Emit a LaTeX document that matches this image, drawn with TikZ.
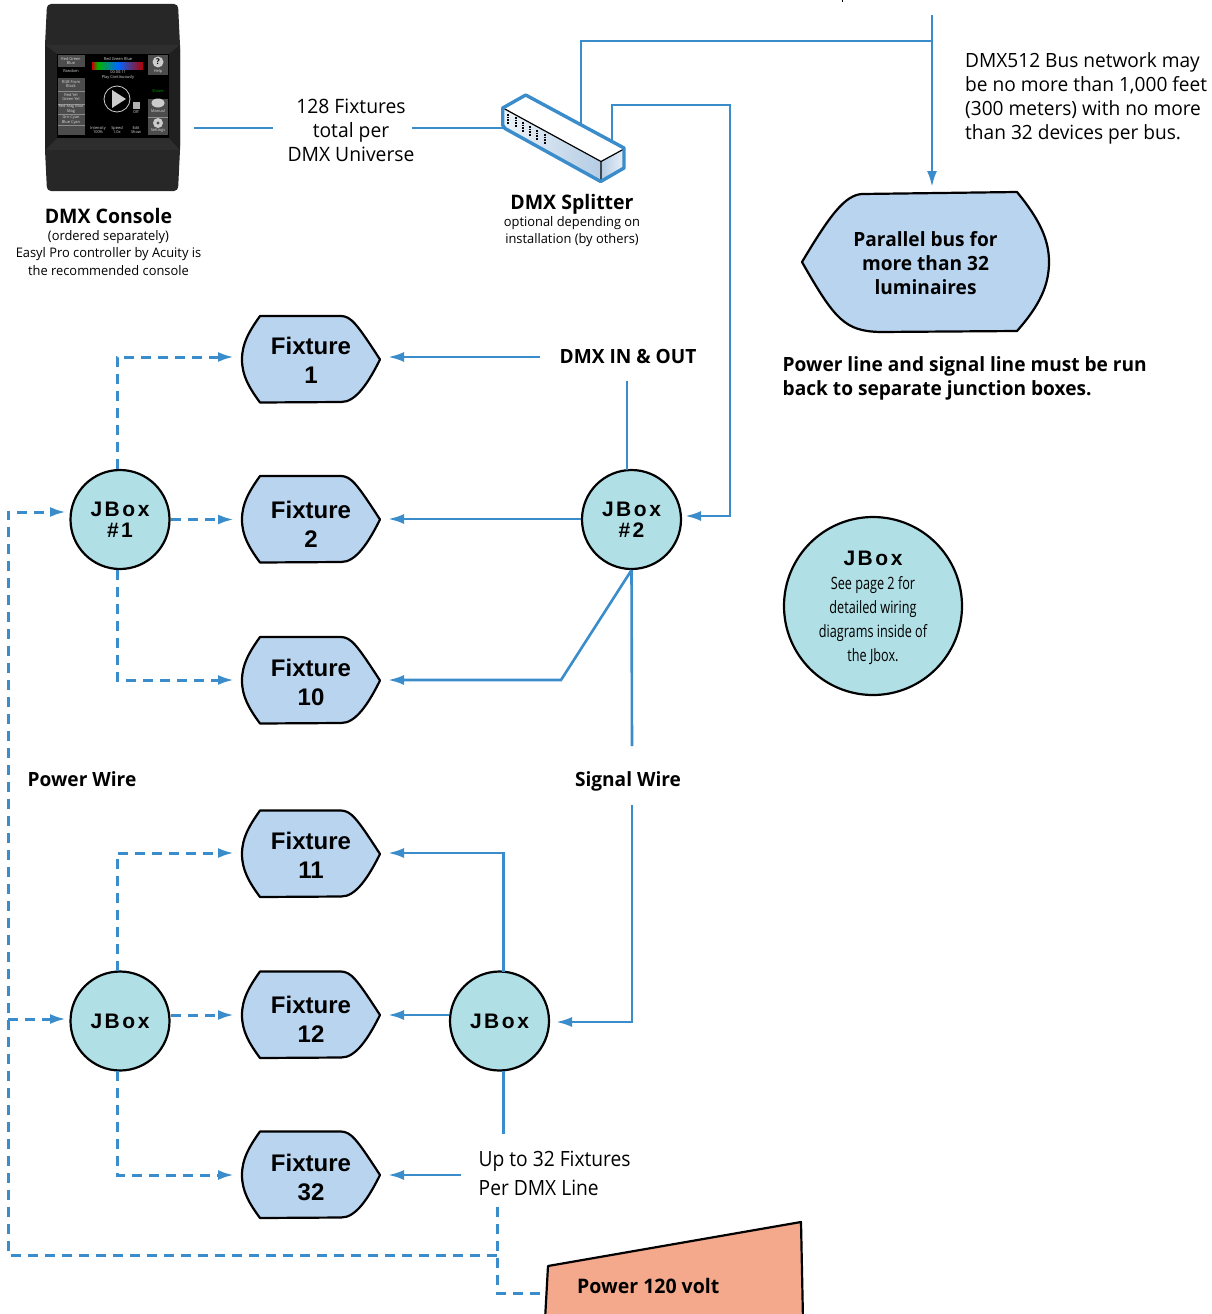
\documentclass[tikz,border=0pt]{standalone}
\usepackage{fontspec}
\usetikzlibrary{arrows.meta,calc}
\setmainfont[FakeStretch=.975]{Open Sans}
\newfontfamily\arl{Liberation Sans}
\newfontfamily\spc[LetterSpace=12]{Liberation Sans}
\newfontfamily\cond[FakeStretch=.745]{Open Sans}
\newfontfamily\condb[FakeStretch=.915]{Open Sans}
\definecolor{wire}{HTML}{3A8CCB}
\definecolor{fixfill}{HTML}{B9D4EF}
\definecolor{boxfill}{HTML}{B0DFE5}
\definecolor{pow}{HTML}{F4A98C}
\definecolor{body}{HTML}{272727}
\definecolor{band}{HTML}{2E2E2E}
\definecolor{bevel}{HTML}{1F1F1F}
\definecolor{splitface}{HTML}{B4CCE4}
\tikzset{
  x=1pt,y=-1pt,
  conn/.style={draw=wire,line width=2.6pt},
  arrowed/.style={-{Latex[length=16pt,width=10pt]}},
  dashwire/.style={conn,line width=3pt,dash pattern=on 10pt off 7pt},
  outline/.style={draw=black,line width=2.2pt,line join=round},
  fixtext/.style={inner sep=0pt,minimum width=138pt,minimum height=87pt,align=center,font=\arl\bfseries\fontsize{24}{29.2}\selectfont},
  jbox/.style={circle,draw=black,line width=2.2pt,fill=boxfill,minimum size=99pt,inner sep=0pt,align=center},
  txt/.style={inner sep=0pt,align=center},
  tinytxt/.style={inner sep=0pt,text=white!85!black,align=center,font=\fontsize{4}{4.4}\selectfont},
}
\newcommand{\fixture}[5]{% name, cx, cy, text cy, number
  \begin{scope}[shift={(#2,#3)}]
    \path[outline,fill=fixfill] (-51,-43.5) -- (30,-43.5)
      .. controls (40,-43) and (45,-37) .. (69,0)
      .. controls (58,22) and (45,43) .. (30,42.5)
      -- (-51,43) .. controls (-62,28) and (-69,16) .. (-69,0)
      .. controls (-69,-16) and (-62,-28) .. cycle;
  \end{scope}
  \node[fixtext] (#1) at (#2,#4) {Fixture\\#5};
}
\begin{document}
\begin{tikzpicture}
\clip (0,0) rectangle (1212,1314);
% console
\path[fill=body,rounded corners=4pt] (47,4) -- (178,4) -- (180,45) -- (180,150) -- (178,191) -- (47,191) -- (45,150) -- (45,45) -- cycle;
\path[fill=band] (45,45) -- (180,45) -- (180,150) -- (45,150) -- cycle;
\path[fill=bevel] (45,45) -- (57,54) -- (57,138) -- (45,150) -- cycle;
\path[fill=bevel] (180,45) -- (169,54) -- (169,138) -- (180,150) -- cycle;
\path[fill=black] (57,54) rectangle (169,138);
\path[fill=black!70!white] (58,55) rectangle (85,67);
\path[fill=black!70!white] (58,78) rectangle (85,135);
\path[draw=black!45!white,line width=.4pt] (58,91)--(85,91) (58,104)--(85,104) (58,114)--(85,114) (58,125)--(85,125);
\path[fill=black!70!white] (148,55) rectangle (168,75);
\path[fill=black!70!white] (148,99) rectangle (168,135);
\path[draw=black!45!white,line width=.4pt] (148,117)--(168,117);
\shade[left color=red!80!black,right color=green!70!black] (92,63) rectangle (98,70);
\shade[left color=green!70!black,right color=blue!60!cyan] (98,63) rectangle (118,70);
\shade[left color=blue!60!cyan,right color=red!70!black] (118,63) rectangle (143,70);
\path[draw=white!80!black,line width=.8pt] (117,99) circle (13);
\path[fill=white!80!black] (112,90) -- (126,99) -- (112,108) -- cycle;
\path[fill=white!70!black] (133,102) rectangle (140,109);
\path[fill=white!80!black] (158,62) circle (5.5);
\node[inner sep=0pt,text=black,font=\bfseries\fontsize{8}{8}\selectfont] (helpq) at (158,62) {?};
\path[fill=white!80!black] (158,103) ellipse (6.5 and 4.5);
\path[fill=white!80!black] (158,123) circle (5);
\path[fill=black!70!white] (158,123) circle (1.6);
\node[tinytxt] (c1) at (118,59) {Red Green Blue};
\node[tinytxt] (c2) at (118,75) {00:00:11\\Play Continuously};
\node[tinytxt] (c3) at (71,61) {Red Green\\Blue};
\node[tinytxt] (c4) at (71,71) {Random};
\node[tinytxt] (c5) at (71,84) {RGB From\\Black};
\node[tinytxt] (c6) at (71,97) {Red Yel\\Green Yel};
\node[tinytxt] (c7) at (71,109) {Red Mag Blue\\Mag};
\node[tinytxt] (c8) at (71,120) {Grn Cyan\\Blue Cyan};
\node[tinytxt] (c9) at (158,71) {Help};
\node[tinytxt,text=green!60!black] (c10) at (158,91) {Shows};
\node[tinytxt] (c11) at (158,111) {Manual};
\node[tinytxt] (c12) at (158,131) {Settings};
\node[tinytxt] (c13) at (136,112) {Off};
\node[tinytxt] (c14) at (98,130) {Intensity\\100\%};
\node[tinytxt] (c15) at (117,130) {Speed\\1.0x};
\node[tinytxt] (c16) at (136,130) {Edit\\Show};
\node[txt,font=\bfseries\fontsize{20}{24}\selectfont] (consoletitle) at (108.5,216) {DMX Console};
\node[txt,font=\fontsize{13.2}{17.4}\selectfont] (consolelabel) at (108.5,253) {(ordered separately)\\Easyl Pro controller by Acuity is\\the recommended console};
% labels
\node[txt,font=\fontsize{19.8}{24}\selectfont] (universe) at (351,130) {128 Fixtures\\total per\\DMX Universe};
\coordinate (consoleout) at (194,128);
\coordinate (univL) at (273,128);
\coordinate (univR) at (412,128);
\coordinate (splitL) at (503,128);
\coordinate (splitA) at (581,124);
\coordinate (splitB) at (612,141);
\draw[conn] (consoleout) -- (univL);
\draw[conn] (univR) -- (splitL);
\coordinate (busTop) at (932,15);
\coordinate (busArrow) at (932,187);
\coordinate (busJoin) at (932,41);
\draw[conn] (splitA) |- (busJoin);
\draw[conn,arrowed] (busTop) -- (busArrow);
% splitter
\path[fill=white] (503,108) -- (525.5,95) -- (624,149) -- (601,161.5) -- cycle;
\shade[left color=white!75!splitface,right color=splitface] (503,108) -- (601,161.5) -- (601,181.5) -- (505,128) -- (503,125) -- cycle;
\shade[left color=splitface,right color=white!70!splitface] (601,161.5) -- (624,149) -- (624,167) -- (601,181.5) -- cycle;
\path[draw=black,line width=1.2pt] (503,108) -- (601,161.5) -- (624,149) (601,161.5) -- (601,181.5);
\foreach \i/\px/\py in {1/508.3/114,2/515.7/117,3/522.7/122,4/530/126,5/537.3/130,6/545/134}
  \path[draw=black,line width=1.7pt,dash pattern=on 1.8pt off .8pt] (\px,\py) -- (\px,\py+10);
\path[draw=wire,line width=3.4pt,line join=round] (502.7,108) -- (525.7,95) -- (624,148) -- (624,168) -- (600.7,181.5) -- (505,128.5) -- (502.7,125) -- cycle;
\node[txt,font=\bfseries\fontsize{20}{24}\selectfont] (splittertitle) at (572,204) {DMX Splitter};
\node[txt,font=\fontsize{13.2}{17}\selectfont] (splitterlabel) at (572,232) {optional depending on\\installation (by others)};
% right text
\node[txt,anchor=west,align=left,font=\fontsize{19.6}{24}\selectfont] (busnote) at (965,98) {DMX512 Bus network may\\be no more than 1,000 feet\\(300 meters) with no more\\than 32 devices per bus.};
\path[outline,fill=fixfill] (862,194) -- (1017,192)
  .. controls (1040,220) and (1049,240) .. (1049,262)
  .. controls (1049,285) and (1040,305) .. (1017,331)
  -- (880,332) .. controls (845,331) and (835,320) .. (802,262)
  .. controls (830,215) and (845,195) .. (862,194) -- cycle;
\node[txt,font=\bfseries\fontsize{19.6}{24}\selectfont] (parallel) at (925.5,263) {Parallel bus for\\more than 32\\luminaires};
\node[txt,anchor=west,align=left,font=\bfseries\fontsize{19.6}{24}\selectfont] (powernote) at (782.5,378.5) {Power line and signal line must be run\\back to separate junction boxes.};
% fixtures
\fixture{f1}{311}{359.5}{360.5}{1}
\fixture{f2}{311}{519.5}{524}{2}
\fixture{f10}{311}{680.5}{682.5}{10}
\fixture{f11}{311}{854}{855.5}{11}
\fixture{f12}{311}{1015}{1019.5}{12}
\fixture{f32}{311}{1175}{1177.5}{32}
% jboxes
\node[jbox,font=\spc\bfseries\fontsize{21}{21}\selectfont] (j1) at (120,519.5) {JBox\\\#1};
\node[jbox,font=\spc\bfseries\fontsize{21}{21}\selectfont] (j2) at (631.5,519.5) {JBox\\\#2};
\node[jbox,font=\spc\bfseries\fontsize{21}{21}\selectfont] (j3) at (120,1021) {JBox};
\node[jbox,font=\spc\bfseries\fontsize{21}{21}\selectfont] (j4) at (499.5,1021) {JBox};
\node[jbox,minimum size=178pt] (j5) at (873,606) {};
\node[txt,font=\spc\bfseries\fontsize{21}{24}\selectfont] (j5t) at (873,558) {JBox};
\node[txt,font=\cond\fontsize{17}{24}\selectfont] (j5n) at (873,621) {See page 2 for\\detailed wiring\\diagrams inside of\\the Jbox.};
% text labels
\node[txt,font=\bfseries\fontsize{19.6}{24}\selectfont] (dmxio) at (628,356) {DMX IN \& OUT};
\node[txt,font=\bfseries\fontsize{19.6}{24}\selectfont] (powerwire) at (82,779) {Power Wire};
\node[txt,font=\bfseries\fontsize{19.6}{24}\selectfont] (signalwire) at (628,781) {Signal Wire};
\node[txt,anchor=west,align=left,font=\condb\fontsize{21}{29}\selectfont] (upto) at (478.5,1173) {Up to 32 Fixtures\\Per DMX Line};
% power
\path[outline,fill=pow] (548,1266) -- (801,1222) -- (803,1320) -- (545,1320) -- cycle;
\node[txt,anchor=west,font=\bfseries\fontsize{20}{24}\selectfont] (power) at (577,1286) {Power 120 volt};
% signal connectors
\coordinate (t1) at (388,357);
\coordinate (t2) at (388,519);
\coordinate (t10) at (388,680);
\coordinate (t11) at (388,853);
\coordinate (t12) at (388,1015);
\coordinate (t32) at (388,1175);
\coordinate (ioL) at (540,357);
\coordinate (ioB) at (627,381);
\coordinate (jA) at (627,470);
\draw[conn,arrowed] (ioL) -- (t1);
\draw[conn] (ioB) -- (jA);
\draw[conn,arrowed] (j2.west |- t2) -- (t2);
\coordinate (elbow) at (561,680);
\draw[conn,arrowed] (j2.south) -- (elbow) -- (t10);
\coordinate (sigTop) at (632,746);
\coordinate (sigBot) at (632,805);
\draw[conn] (j2.south) -- (sigTop);
\coordinate (j4in) at (556,1022);
\draw[conn,arrowed] (sigBot) |- (j4in);
\coordinate (j2in) at (685,516);
\coordinate (s2) at (730,105);
\draw[conn,arrowed] (splitB) |- (s2) |- (j2in);
\coordinate (j4top) at (503.5,972);
\coordinate (j4bot) at (503.5,1071);
\coordinate (uptoTop) at (503.5,1134);
\draw[conn,arrowed] (j4top) |- (t11);
\draw[conn,arrowed] (j4.west |- t12) -- (t12);
\draw[conn] (j4bot) -- (uptoTop);
\coordinate (uptoR) at (461,1175);
\draw[conn,arrowed] (uptoR) -- (t32);
% power connectors
\coordinate (p1) at (234,357);
\coordinate (p2) at (234,519.5);
\coordinate (p10) at (234,680);
\coordinate (p11) at (234,853);
\coordinate (p12) at (234,1015);
\coordinate (p32) at (234,1175);
\coordinate (j1t) at (117,469);
\coordinate (j1b) at (117,570);
\coordinate (j3t) at (117,971);
\coordinate (j3b) at (117,1071);
\coordinate (j3e) at (171,1015);
\coordinate (lBus) at (8,1255);
\coordinate (j1in) at (66,512);
\coordinate (j3in) at (66,1019);
\coordinate (corner) at (497,1255);
\coordinate (downT) at (497,1207);
\coordinate (powIn) at (547,1293);
\coordinate (busMid) at (8,1019);
\draw[dashwire,arrowed] (j1t) |- (p1);
\draw[dashwire,arrowed] (j1.east) -- (p2);
\draw[dashwire,arrowed] (j1b) |- (p10);
\draw[dashwire,arrowed] (j3t) |- (p11);
\draw[dashwire,arrowed] (j3e) -- (p12);
\draw[dashwire,arrowed] (j3b) |- (p32);
\draw[dashwire,arrowed] (corner) -- (lBus) |- (j1in);
\draw[dashwire,arrowed] (busMid) -- (j3in);
\draw[dashwire] (downT) |- (powIn);
% cut-off mark at top edge
\path[fill=black] (841.5,0) rectangle (843,2.5);
\end{tikzpicture}
\end{document}
